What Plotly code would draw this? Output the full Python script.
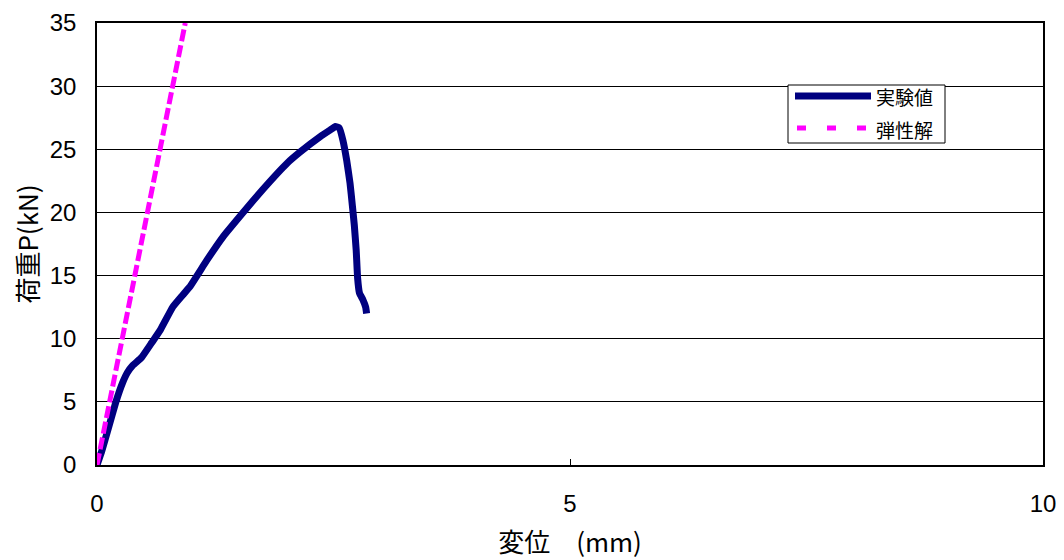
import plotly.graph_objects as go

# Experimental (実験値)
exp_disp = [0, 0.05, 0.12, 0.20, 0.27, 0.32, 0.38, 0.47, 0.58, 0.67, 0.80, 0.90,
            0.98, 1.16, 1.33, 1.54, 1.75, 2.01, 2.15, 2.36, 2.46, 2.52, 2.56, 2.60,
            2.64, 2.675, 2.70, 2.72, 2.74, 2.755, 2.775, 2.81, 2.84, 2.85]
exp_load = [0, 1.1, 2.9, 5.0, 6.5, 7.3, 7.9, 8.5, 9.7, 10.7, 12.5, 13.4,
            14.1, 16.2, 18.05, 19.95, 21.8, 23.9, 24.8, 26.0, 26.5, 26.8, 26.7, 25.7,
            24.1, 22.3, 20.5, 19.0, 17.0, 14.8, 13.6, 13.1, 12.5, 12.0]

# Elastic solution (弾性解)
ela_disp = [0, 0.933]
ela_load = [0, 35]

x_ticks = [0, 5, 10]
y_ticks = [0, 5, 10, 15, 20, 25, 30, 35]
legend_names = ["実験値", "弾性解"]

FONT = "Liberation Sans, Arial, Noto Sans CJK JP, sans-serif"
CJK = "Noto Sans CJK JP, Liberation Sans, sans-serif"

# page body has an 8px margin
OFF = 8
W, H = 1064 - OFF, 560 - OFF
L, R, T, B = 97 - OFF, 21, 23 - OFF, 95

fig = go.Figure()
fig.add_trace(go.Scatter(x=exp_disp, y=exp_load, mode="lines", name=legend_names[0],
                         line=dict(color="#000080", width=7, shape="spline", smoothing=0.3),
                         showlegend=False))
fig.add_trace(go.Scatter(x=ela_disp, y=ela_load, mode="lines", name=legend_names[1],
                         line=dict(color="#FF00FF", width=5, dash="12px,4px"), showlegend=False))

# Manual legend (paper coordinates, from page pixel positions)
def px2x(p):
    return (p - 97) / 946.0

def py2y(p):
    return (465 - p) / 442.0

shapes = [
    dict(type="rect", xref="paper", yref="paper", x0=px2x(788), x1=px2x(945),
         y0=py2y(143), y1=py2y(85), line=dict(color="black", width=1), fillcolor="white"),
    dict(type="line", xref="paper", yref="paper", x0=px2x(795), x1=px2x(871),
         y0=py2y(96), y1=py2y(96), line=dict(color="#000080", width=7)),
    dict(type="line", xref="paper", yref="paper", x0=px2x(797), x1=px2x(868),
         y0=py2y(128), y1=py2y(128), line=dict(color="#FF00FF", width=5, dash="9px,21px")),
]
annotations = [
    dict(xref="paper", yref="paper", x=px2x(874), y=py2y(97), text=legend_names[0],
         showarrow=False, xanchor="left", yanchor="middle",
         font=dict(family=CJK, size=19, color="black")),
    dict(xref="paper", yref="paper", x=px2x(874), y=py2y(129), text=legend_names[1],
         showarrow=False, xanchor="left", yanchor="middle",
         font=dict(family=CJK, size=19, color="black")),
]

fig.update_layout(
    width=W, height=H,
    margin=dict(l=L, r=R, t=T, b=B, autoexpand=False),
    paper_bgcolor="white", plot_bgcolor="white",
    font=dict(family=FONT, color="black", size=24),
    shapes=shapes, annotations=annotations,
    showlegend=False,
)
fig.update_xaxes(range=[0, 10], tickvals=x_ticks, ticktext=[str(v) for v in x_ticks],
                 showgrid=False, zeroline=False, showline=True, linecolor="black",
                 linewidth=2, mirror=True, ticks="inside", ticklen=6, tickcolor="black",
                 ticklabelstandoff=16, automargin=False,
                 tickfont=dict(family=FONT, size=24),
                 title=dict(text="変位　(mm)", font=dict(family=CJK, size=26), standoff=18))
fig.update_yaxes(range=[0, 35], tickvals=y_ticks, showgrid=True, gridcolor="black",
                 gridwidth=1, zeroline=False, showline=True, linecolor="black",
                 linewidth=1.5, mirror=True, ticks="", ticklabelstandoff=14, automargin=False,
                 tickfont=dict(family=FONT, size=24),
                 title=dict(text="荷重P(kN)", font=dict(family=CJK, size=26), standoff=8))

fig.write_html("out.html")
